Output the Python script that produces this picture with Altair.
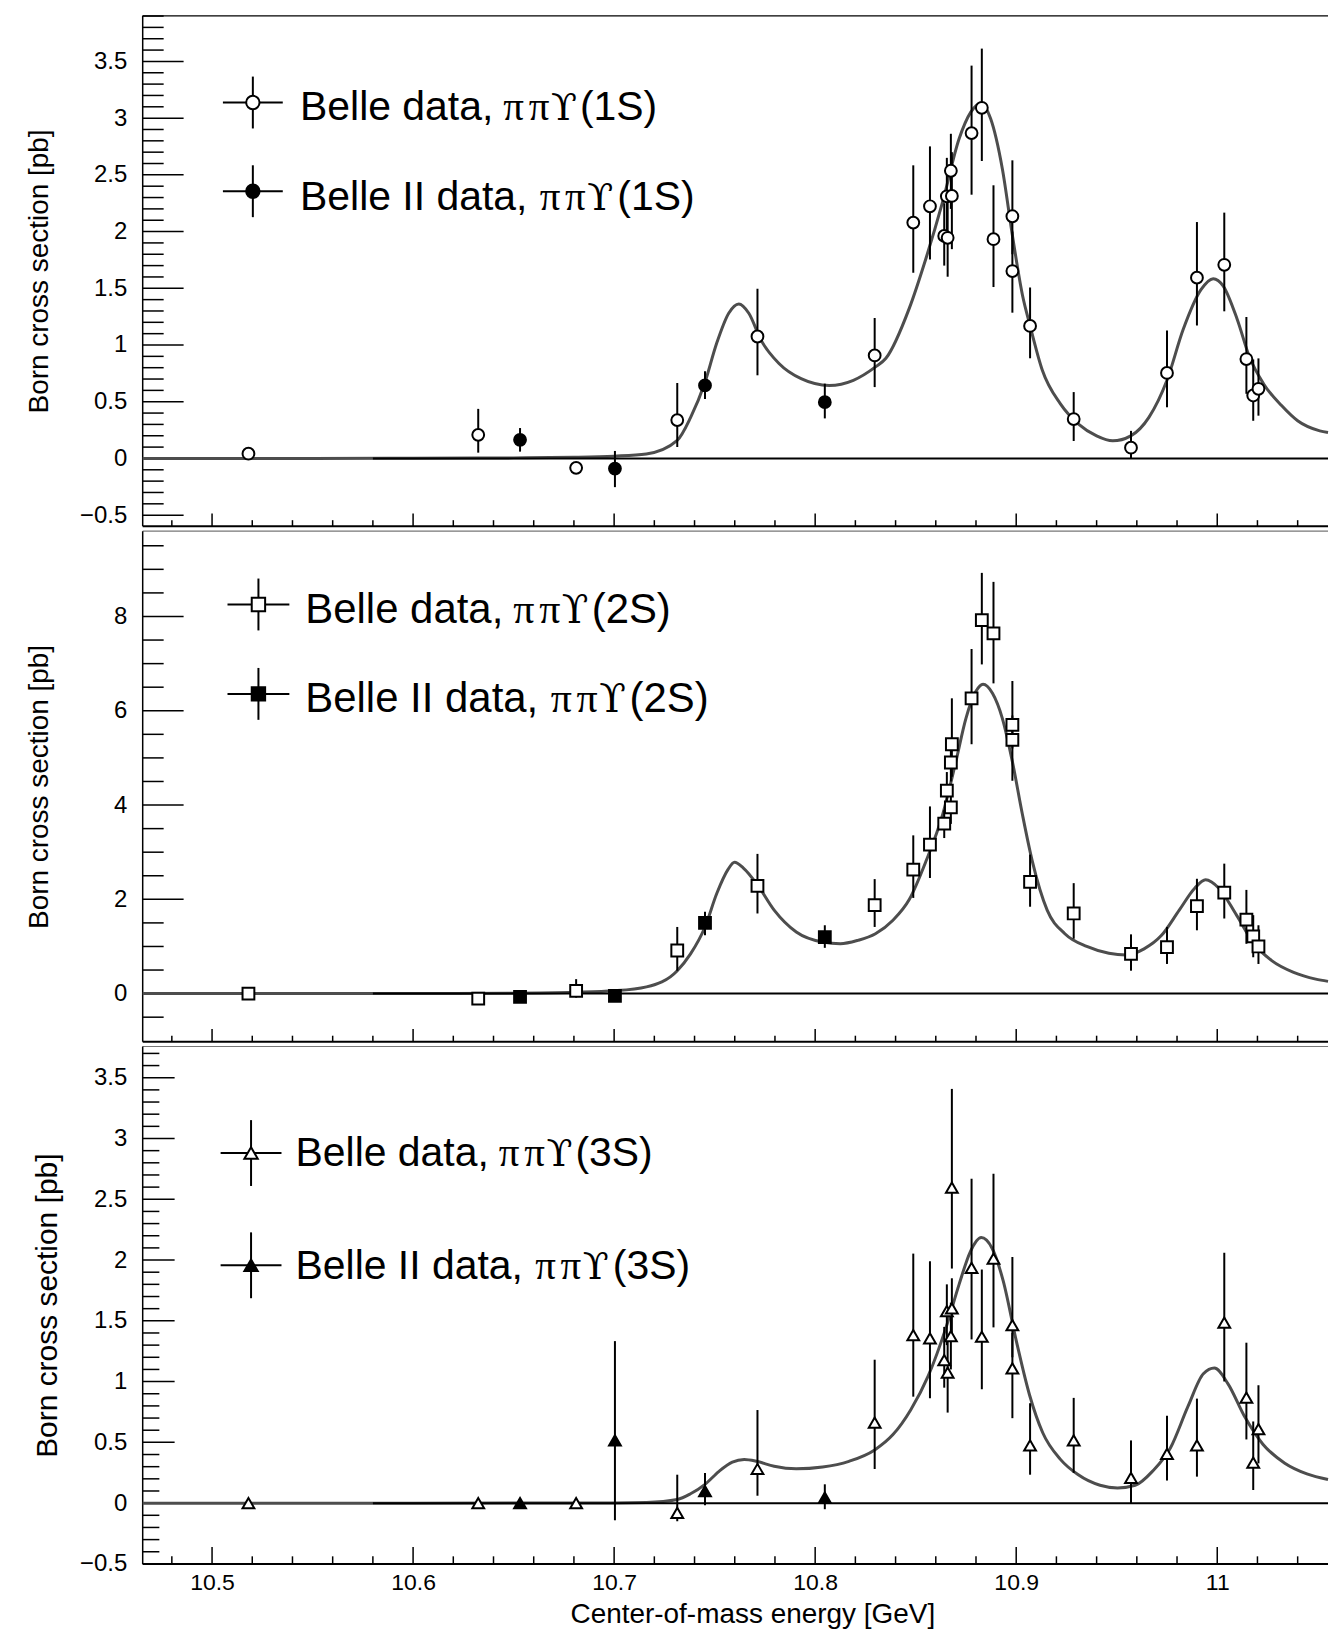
import altair as alt
import pandas as pd

# ---------------- data ----------------
# Panel 1: pi pi Upsilon(1S)
fit1_x = [10.4655, 10.55, 10.60, 10.65, 10.68, 10.70, 10.716, 10.7314, 10.738, 10.745, 10.751, 10.757,
          10.762, 10.767, 10.773, 10.782, 10.793, 10.807, 10.819, 10.830, 10.8352, 10.8468, 10.8551,
          10.8634, 10.8716, 10.8774, 10.8824, 10.8873, 10.8931, 10.8981, 10.9031, 10.9069, 10.913,
          10.922, 10.931, 10.940, 10.948, 10.957, 10.966, 10.975, 10.983, 10.992, 10.998, 11.003,
          11.010, 11.016, 11.023, 11.032, 11.040, 11.051, 11.0551]
fit1_y = [0.0, 0.0, 0.002, 0.005, 0.01, 0.02, 0.04, 0.16, 0.36, 0.66, 1.015, 1.28, 1.362, 1.28, 1.045,
          0.837, 0.703, 0.644, 0.689, 0.807, 0.883, 1.323, 1.763, 2.261, 2.818, 3.053, 3.132, 2.994,
          2.554, 1.968, 1.441, 1.17, 0.778, 0.481, 0.303, 0.199, 0.155, 0.199, 0.362, 0.689, 1.134,
          1.490, 1.585, 1.520, 1.223, 0.896, 0.659, 0.466, 0.332, 0.243, 0.228]
b1_x = [10.5181, 10.6324, 10.6811, 10.7314, 10.7713, 10.8296, 10.8488, 10.8571, 10.8642, 10.8659,
        10.8655, 10.8675, 10.8680, 10.8778, 10.8829, 10.8887, 10.8981, 10.8981, 10.9069, 10.9286,
        10.9571, 10.9750, 10.9899, 11.0035, 11.0145, 11.0179, 11.0205]
b1_y = [0.042, 0.208, -0.083, 0.338, 1.075, 0.908, 2.079, 2.223, 1.962, 1.945, 2.311, 2.536, 2.314,
        2.868, 3.091, 1.933, 2.135, 1.652, 1.168, 0.347, 0.095, 0.754, 1.594, 1.707, 0.876, 0.555, 0.614]
b1_lo = [0.02, 0.051, -0.11, 0.101, 0.733, 0.629, 1.637, 1.754, 1.70, 1.602, 2.0, 2.2, 1.845, 2.325,
         2.622, 1.511, 1.80, 1.285, 0.883, 0.154, 0.0, 0.451, 1.172, 1.297, 0.570, 0.332, 0.377]
b1_hi = [0.065, 0.437, -0.055, 0.665, 1.496, 1.238, 2.584, 2.751, 2.25, 2.30, 2.65, 2.862, 2.70, 3.463,
         3.613, 2.408, 2.628, 2.0, 1.507, 0.585, 0.243, 1.128, 2.084, 2.167, 1.247, 0.873, 0.882]
c1_x = [10.6532, 10.7004, 10.7452, 10.8048]
c1_y = [0.164, -0.089, 0.644, 0.496]
c1_lo = [0.060, -0.253, 0.525, 0.353]
c1_hi = [0.268, 0.066, 0.769, 0.659]

# Panel 2: pi pi Upsilon(2S)
fit2_x = [10.4655, 10.60, 10.65, 10.68, 10.70, 10.7161, 10.7314, 10.738, 10.7452, 10.7511, 10.7566,
          10.7599, 10.7643, 10.7713, 10.7796, 10.7906, 10.8037, 10.8125, 10.8212, 10.8300, 10.8387,
          10.8468, 10.8551, 10.8634, 10.870, 10.875, 10.8799, 10.8835, 10.8882, 10.8931, 10.8981,
          10.9031, 10.908, 10.9154, 10.9242, 10.9351, 10.9461, 10.9548, 10.9636, 10.9723, 10.9811,
          10.9888, 10.9942, 11.0008, 11.0096, 11.0183, 11.0271, 11.0380, 11.0490, 11.0551]
fit2_y = [0.0, 0.0, 0.01, 0.03, 0.06, 0.143, 0.486, 0.843, 1.414, 2.129, 2.629, 2.786, 2.664, 2.307,
          1.771, 1.307, 1.093, 1.057, 1.129, 1.271, 1.557, 1.996, 2.807, 3.795, 4.924, 5.840, 6.406,
          6.560, 6.370, 5.84, 4.92, 3.80, 2.81, 1.771, 1.271, 1.0, 0.857, 0.821, 0.95, 1.236, 1.771,
          2.236, 2.414, 2.236, 1.664, 1.057, 0.7, 0.45, 0.307, 0.26]
b2_x = [10.5181, 10.6324, 10.6811, 10.7314, 10.7713, 10.8296, 10.8488, 10.8571, 10.8642, 10.8675,
        10.8655, 10.8675, 10.8680, 10.8778, 10.8829, 10.8887, 10.8981, 10.8981, 10.9069, 10.9286,
        10.9571, 10.9750, 10.9899, 11.0035, 11.0145, 11.0179, 11.0205]
b2_y = [0.0, -0.107, 0.057, 0.914, 2.286, 1.879, 2.631, 3.160, 3.605, 3.950, 4.304, 4.903, 5.290,
        6.264, 7.923, 7.640, 5.701, 5.383, 2.369, 1.700, 0.843, 0.986, 1.857, 2.143, 1.571, 1.214, 1.0]
b2_lo = [-0.05, -0.15, -0.086, 0.486, 1.700, 1.414, 2.03, 2.453, 3.3, 3.6, 3.9, 4.5, 4.6, 5.290,
         6.983, 6.581, 5.2, 4.515, 1.843, 1.164, 0.486, 0.629, 1.343, 1.593, 1.057, 0.771, 0.629]
b2_hi = [0.05, -0.06, 0.307, 1.414, 2.964, 2.429, 3.357, 3.971, 3.9, 4.3, 4.7, 5.3, 6.264, 7.310,
         8.925, 8.734, 6.632, 5.9, 2.95, 2.343, 1.257, 1.414, 2.436, 2.757, 2.2, 1.664, 1.45]
c2_x = [10.6532, 10.7004, 10.7452, 10.8048]
c2_y = [-0.07, -0.05, 1.5, 1.2]
c2_lo = [-0.12, -0.1, 1.236, 0.971]
c2_hi = [-0.02, 0.0, 1.736, 1.45]

# Panel 3: pi pi Upsilon(3S)
fit3_x = [10.4655, 10.60, 10.70, 10.7161, 10.7314, 10.738, 10.7452, 10.7522, 10.7588, 10.7647,
          10.7709, 10.7796, 10.7906, 10.8037, 10.8168, 10.8296, 10.8387, 10.8475, 10.8563, 10.8650,
          10.8716, 10.8771, 10.8826, 10.8880, 10.8935, 10.9001, 10.9066, 10.9132, 10.9220, 10.9307,
          10.9417, 10.9504, 10.9592, 10.9680, 10.9767, 10.9855, 10.9931, 10.9986, 11.0052, 11.0139,
          11.0227, 11.0336, 11.0446, 11.0551]
fit3_y = [0.0, 0.0, 0.001, 0.005, 0.03, 0.077, 0.155, 0.262, 0.337, 0.359, 0.344, 0.303, 0.282,
          0.297, 0.344, 0.438, 0.564, 0.767, 1.049, 1.440, 1.800, 2.066, 2.185, 2.097, 1.831, 1.331,
          0.892, 0.579, 0.360, 0.235, 0.147, 0.125, 0.147, 0.266, 0.454, 0.798, 1.064, 1.111, 0.986,
          0.704, 0.485, 0.329, 0.241, 0.195]
b3_x = [10.5181, 10.6324, 10.6811, 10.7314, 10.7713, 10.8296, 10.8488, 10.8571, 10.8642, 10.8659,
        10.8655, 10.8680, 10.8675, 10.8680, 10.8778, 10.8829, 10.8887, 10.8981, 10.8981, 10.9069,
        10.9286, 10.9571, 10.9750, 10.9899, 11.0035, 11.0145, 11.0179, 11.0205]
b3_y = [0.0, 0.0, 0.0, -0.080, 0.281, 0.663, 1.383, 1.356, 1.177, 1.073, 1.580, 1.602, 1.374, 2.595,
        1.935, 1.369, 2.012, 1.465, 1.109, 0.475, 0.516, 0.208, 0.406, 0.475, 1.486, 0.869, 0.334, 0.609]
b3_lo = [-0.02, -0.02, -0.02, -0.149, 0.061, 0.281, 0.876, 0.863, 0.95, 0.745, 1.3, 1.35, 1.1, 1.930,
         1.347, 0.937, 1.446, 1.2, 0.699, 0.234, 0.249, 0.0, 0.186, 0.218, 1.001, 0.524, 0.108, 0.327]
b3_hi = [0.02, 0.02, 0.02, 0.234, 0.766, 1.180, 2.053, 1.990, 1.45, 1.35, 1.8, 1.85, 1.65, 3.408,
         2.669, 1.922, 2.710, 2.025, 1.4, 0.822, 0.866, 0.516, 0.719, 0.860, 2.060, 1.320, 0.672, 0.970]
c3_x = [10.6532, 10.7004, 10.7452, 10.8048]
c3_y = [0.0, 0.517, 0.099, 0.046]
c3_lo = [-0.02, -0.141, -0.017, -0.05]
c3_hi = [0.02, 1.333, 0.249, 0.155]

# axis tick values
x_major = [10.5, 10.6, 10.7, 10.8, 10.9, 11.0]
x_minor = [round(10.48 + 0.02 * i, 2) for i in range(29) if i % 5 != 1]
y13_major = [-0.5, 0, 0.5, 1, 1.5, 2, 2.5, 3, 3.5]
y1_minor = [round(-0.5 + 0.1 * i, 1) for i in range(45) if i % 5 != 0]
y3_minor = [round(-0.5 + 0.1 * i, 1) for i in range(43) if i % 5 != 0]
y2_major = [0, 2, 4, 6, 8]
y2_minor = [round(-0.5 + 0.5 * i, 1) for i in range(21) if i % 4 != 1]

zero_from = 10.58

# ---------------- styling / layout ----------------
SANS = "Liberation Sans"
SERIF = "Liberation Serif"
XMIN, XMAX = 10.4655, 11.0551
PW = 1188
MSIZE = 140
LSIZE = 180
CURVE = "#4d4d4d"

xscale = alt.Scale(domain=[XMIN, XMAX], nice=False, zero=False)
one = pd.DataFrame({"k": [0]})


def make_panel(fx, fy, bx, by, blo, bhi, cx, cy, clo, chi, shape, ydom, H, ymaj, ymin, yfmt,
               ymaj_len, ymin_len, xmaj_len, xmin_len, title_fs, title_x, xaxis, legend, top_col):
    ysc = alt.Scale(domain=ydom, nice=False, zero=False)
    yax = alt.Axis(values=ymaj, format=yfmt, ticks=False, domain=False, grid=False,
                   labelFont=SANS, labelFontSize=24, labelColor="black", labelPadding=16,
                   title="Born cross section [pb]", titleFont=SANS, titleFontSize=title_fs,
                   titleFontWeight="normal", titleColor="black", titleX=title_x, titleY=H / 2,
                   titleAngle=270, titleBaseline="middle", titleAlign="center")
    if xaxis:
        xax = alt.Axis(values=x_major, format=".1~f", ticks=False, domain=False, grid=False,
                       labelFont=SANS, labelFontSize=23, labelColor="black", labelPadding=8,
                       labelFlush=False, labelOverlap=False,
                       title="Center-of-mass energy [GeV]", titleFont=SANS, titleFontSize=28,
                       titleFontWeight="normal", titleColor="black", titleX=611, titleY=36.5,
                       titleBaseline="top", titleAlign="center")
    else:
        xax = None

    def X(f):
        return alt.X(f"{f}:Q", scale=xscale, axis=xax)

    def Y(f):
        return alt.Y(f"{f}:Q", scale=ysc, axis=yax)

    fit = pd.DataFrame({"x": fx, "y": fy})
    belle = pd.DataFrame({"x": bx, "y": by, "lo": blo, "hi": bhi})
    belle2 = pd.DataFrame({"x": cx, "y": cy, "lo": clo, "hi": chi})
    pts = pd.concat([belle, belle2])
    zl = pd.DataFrame({"x": [zero_from], "x2": [XMAX], "y": [0.0]})

    layers = []
    # frame
    layers.append(alt.Chart(one).mark_rule(color=top_col, strokeWidth=1.2).encode(
        x=alt.value(0), x2=alt.value(PW), y=alt.value(0)))
    layers.append(alt.Chart(one).mark_rule(color="black", strokeWidth=1.5).encode(
        x=alt.value(0), y=alt.value(0), y2=alt.value(H)))
    layers.append(alt.Chart(one).mark_rule(color="black", strokeWidth=2).encode(
        x=alt.value(0), x2=alt.value(PW), y=alt.value(H)))
    # ticks
    layers.append(alt.Chart(pd.DataFrame({"v": ymaj})).mark_rule(color="black", strokeWidth=1.5).encode(
        y=Y("v"), x=alt.value(0), x2=alt.value(ymaj_len)))
    layers.append(alt.Chart(pd.DataFrame({"v": ymin})).mark_rule(color="black", strokeWidth=1.5).encode(
        y=Y("v"), x=alt.value(0), x2=alt.value(ymin_len)))
    layers.append(alt.Chart(pd.DataFrame({"v": x_major})).mark_rule(color="black", strokeWidth=1.5).encode(
        x=X("v"), y=alt.value(H), y2=alt.value(H - xmaj_len)))
    layers.append(alt.Chart(pd.DataFrame({"v": x_minor})).mark_rule(color="black", strokeWidth=1.5).encode(
        x=X("v"), y=alt.value(H), y2=alt.value(H - xmin_len)))
    # fit curve and zero line
    layers.append(alt.Chart(fit).mark_line(color=CURVE, strokeWidth=3, interpolate="monotone").encode(
        x=X("x"), y=Y("y")))
    layers.append(alt.Chart(zl).mark_rule(color="black", strokeWidth=2).encode(
        x=X("x"), x2="x2", y=Y("y")))
    # error bars and markers
    layers.append(alt.Chart(pts).mark_rule(color="black", strokeWidth=2).encode(
        x=X("x"), y=Y("lo"), y2="hi"))
    layers.append(alt.Chart(belle).mark_point(shape=shape, filled=True, fill="white", stroke="black",
                                              strokeWidth=2, size=MSIZE, opacity=1).encode(
        x=X("x"), y=Y("y")))
    layers.append(alt.Chart(belle2).mark_point(shape=shape, filled=True, fill="black", stroke="black",
                                               strokeWidth=2, size=MSIZE, opacity=1).encode(
        x=X("x"), y=Y("y")))
    # legend (ROOT-style: marker with error cross, then label)
    hb, vb, tx, fs, tag = legend["hb"], legend["vb"], legend["tx"], legend["fs"], legend["tag"]
    for (mx, my, base, txt, offs, fillc) in legend["rows"]:
        layers.append(alt.Chart(one).mark_rule(color="black", strokeWidth=2).encode(
            x=alt.value(mx - hb), x2=alt.value(mx + hb), y=alt.value(my)))
        layers.append(alt.Chart(one).mark_rule(color="black", strokeWidth=2).encode(
            x=alt.value(mx), y=alt.value(my - vb), y2=alt.value(my + vb)))
        layers.append(alt.Chart(one).mark_point(shape=shape, filled=True, fill=fillc, stroke="black",
                                                strokeWidth=2, size=LSIZE, opacity=1).encode(
            x=alt.value(mx), y=alt.value(my)))
        layers.append(alt.Chart(one).mark_text(text=txt, font=SANS, fontSize=fs, align="left",
                                               baseline="alphabetic", color="black").encode(
            x=alt.value(tx), y=alt.value(base)))
        for glyph, gfont, gsize, off in [("\u03c0", SERIF, fs, offs[0]), ("\u03c0", SERIF, fs, offs[1]),
                                         ("\u03d2", "DejaVu Serif", fs - 3, offs[2])]:
            layers.append(alt.Chart(one).mark_text(text=glyph, font=gfont, fontSize=gsize,
                                                   align="center", baseline="alphabetic",
                                                   color="black").encode(
                x=alt.value(tx + off), y=alt.value(base)))
        layers.append(alt.Chart(one).mark_text(text=tag, font=SANS, fontSize=fs, align="left",
                                               baseline="alphabetic", color="black").encode(
            x=alt.value(tx + offs[3]), y=alt.value(base)))

    return alt.layer(*layers).properties(width=PW, height=H)


r1 = [214.0, 239.5, 264.5, 280.5]
r2 = [250.5, 276.0, 301.0, 318.0]
r1b = [219.0, 245.0, 270.5, 287.0]
r2b = [256.5, 282.5, 308.0, 325.0]

p1 = make_panel(fit1_x, fit1_y, b1_x, b1_y, b1_lo, b1_hi, c1_x, c1_y, c1_lo, c1_hi, "circle",
                [-0.597, 3.902], 511.5, y13_major, y1_minor, ".1~f", 41, 21, 12.7, 6, 28, -103, False,
                {"hb": 30, "vb": 26, "tx": 157.7, "fs": 41, "tag": "(1S)",
                 "rows": [(110.4, 86.9, 104.8, "Belle data,", r1, "white"),
                          (110.4, 175.8, 194.4, "Belle II data,", r2, "black")]},
                "black")
p2 = make_panel(fit2_x, fit2_y, b2_x, b2_y, b2_lo, b2_hi, c2_x, c2_y, c2_lo, c2_hi, "square",
                [-1.02, 9.81], 511.7, y2_major, y2_minor, "d", 41, 21, 12.7, 6, 28, -103, False,
                {"hb": 31, "vb": 26, "tx": 163, "fs": 42, "tag": "(2S)",
                 "rows": [(116, 73.5, 92.1, "Belle data,", r1b, "white"),
                          (116, 163.1, 181.7, "Belle II data,", r2b, "black")]},
                "#777777")
p3 = make_panel(fit3_x, fit3_y, b3_x, b3_y, b3_lo, b3_hi, c3_x, c3_y, c3_lo, c3_hi, "triangle-up",
                [-0.5, 3.757], 518.6, y13_major, y3_minor, ".1~f", 32, 16.7, 17, 7.6, 30, -95, True,
                {"hb": 30.5, "vb": 33, "tx": 153.2, "fs": 41, "tag": "(3S)",
                 "rows": [(108.6, 106.8, 120.2, "Belle data,", r1, "white"),
                          (108.6, 219.3, 232.7, "Belle II data,", r2, "black")]},
                "#777777")

chart = alt.vconcat(p1, p2, p3, spacing=4.5, bounds="flush").properties(
    padding={"left": 17, "top": 5, "right": 0, "bottom": 0},
    background="white",
).configure_view(stroke=None)

chart.save("out.html", embed_options={"renderer": "svg", "actions": False})
